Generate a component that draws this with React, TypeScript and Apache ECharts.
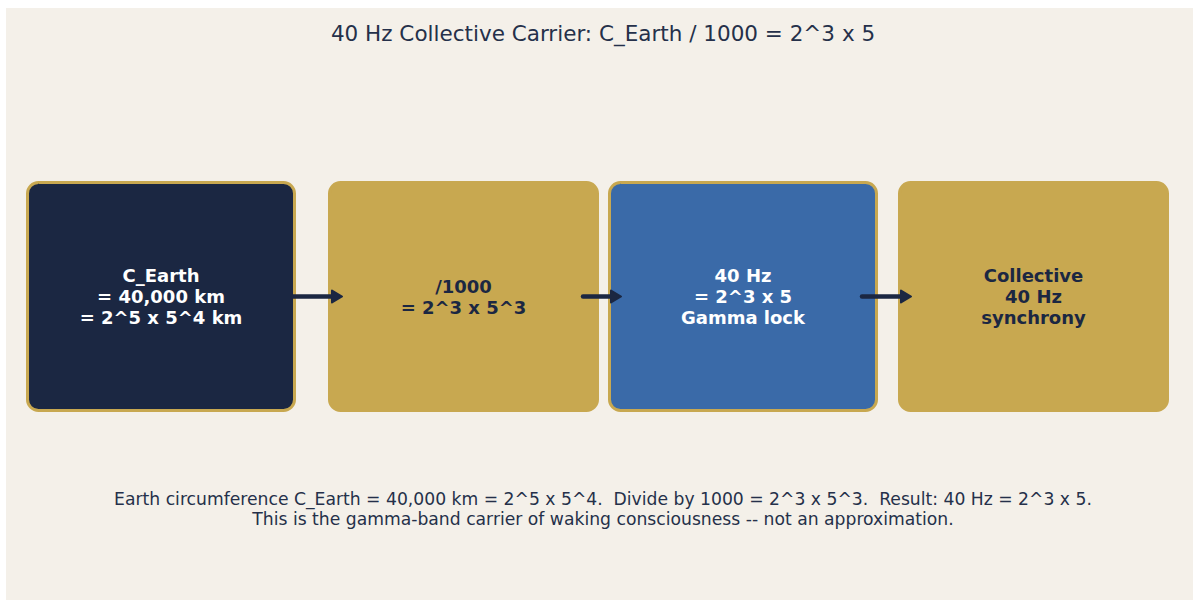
import React, { useEffect, useRef } from "react";
import * as echarts from "echarts";

const title = "40 Hz Collective Carrier: C_Earth / 1000 = 2^3 x 5";
const boxLabels = [
  "C_Earth\n= 40,000 km\n= 2^5 x 5^4 km",
  "/1000\n= 2^3 x 5^3",
  "40 Hz\n= 2^3 x 5\nGamma lock",
  "Collective\n40 Hz\nsynchrony",
];
const boxFills = ["#1b2742", "#c8a850", "#3a6aa8", "#c8a850"];
const boxTextColors = ["#ffffff", "#1b2742", "#ffffff", "#1b2742"];
const boxLeft = [20, 322, 602, 892];
const boxRight = [290, 593, 872, 1163];
const arrowFrom = [287, 577, 856];
const arrowTo = [336, 615, 905];
const footer = [
  "Earth circumference C_Earth = 40,000 km = 2^5 x 5^4.  Divide by 1000 = 2^3 x 5^3.  Result: 40 Hz = 2^3 x 5.",
  "This is the gamma-band carrier of waking consciousness -- not an approximation.",
];

const NAVY = "#1b2742";
const GOLD = "#c8a850";
const FONT = "'DejaVu Sans', sans-serif";

export default function App() {
  const ref = useRef<HTMLDivElement>(null);
  useEffect(() => {
    if (!ref.current) return;
    const chart = echarts.init(ref.current, null, { renderer: "svg" });
    const top = 173;
    const bottom = 404;
    const midY = (top + bottom) / 2;
    const elements: any[] = [];
    boxLabels.forEach((label, i) => {
      const x = boxLeft[i];
      const w = boxRight[i] - boxLeft[i];
      elements.push({
        type: "rect",
        shape: { x: x + 1.5, y: top + 1.5, width: w - 3, height: bottom - top - 3, r: 11 },
        style: { fill: boxFills[i], stroke: GOLD, lineWidth: 3 },
        z: 1,
      });
      elements.push({
        type: "text",
        x: x + w / 2,
        y: midY,
        style: {
          text: label,
          fill: boxTextColors[i],
          font: `bold 18px ${FONT}`,
          lineHeight: 21,
          align: "center",
          verticalAlign: "middle",
        },
        z: 3,
      });
    });
    arrowFrom.forEach((x0, i) => {
      const x1 = arrowTo[i];
      elements.push({
        type: "line",
        shape: { x1: x0, y1: midY, x2: x1 - 7, y2: midY },
        style: { stroke: NAVY, lineWidth: 4.5, lineCap: "round" },
        z: 4,
      });
      elements.push({
        type: "polygon",
        shape: { points: [[x1 - 10, midY - 6], [x1, midY], [x1 - 10, midY + 6]] },
        style: { fill: NAVY, stroke: NAVY, lineWidth: 2, lineJoin: "round" },
        z: 4,
      });
    });
    elements.push({
      type: "text",
      x: 597,
      y: 25,
      style: { text: title, fill: "#25304a", font: `21.5px ${FONT}`, align: "center", verticalAlign: "middle" },
    });
    elements.push({
      type: "text",
      x: 597,
      y: 501,
      style: {
        text: footer.join("\n"),
        fill: "#25304a",
        font: `17.2px ${FONT}`,
        lineHeight: 20,
        align: "center",
        verticalAlign: "middle",
      },
    });
    chart.setOption({
      animation: false,
      backgroundColor: "#f4f0e9",
      graphic: { elements },
    });
    return () => chart.dispose();
  }, []);
  return (
    <div
      ref={ref}
      style={{ position: "absolute", left: 6, top: 8, width: 1187, height: 592 }}
    />
  );
}
